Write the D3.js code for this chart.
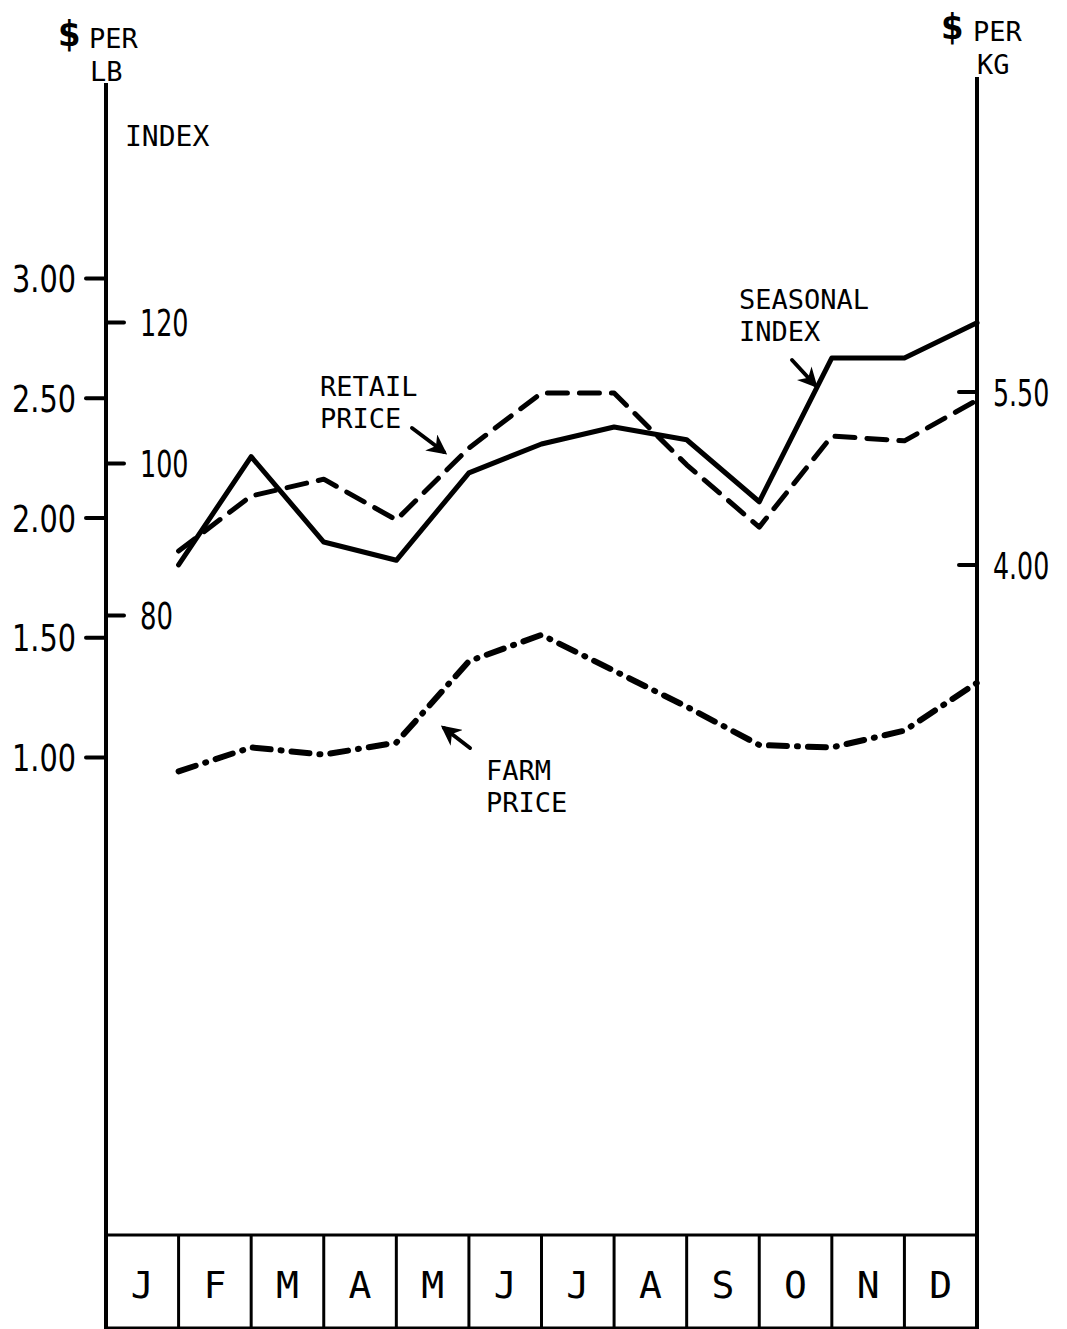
<!DOCTYPE html>
<html>
<head>
<meta charset="utf-8">
<script src="https://cdn.jsdelivr.net/npm/d3@7"></script>
<style>
  html, body { margin: 0; padding: 0; background: #fff; }
  svg { display: block; }
  .num { font-family: "DejaVu Sans Condensed", "DejaVu Sans", sans-serif; }
  .mono { font-family: "DejaVu Sans Mono", monospace; }
</style>
</head>
<body>
<svg id="chart" width="1067" height="1329"></svg>
<script>
// ---- data ----
const months = ["J","F","M","A","M","J","J","A","S","O","N","D"];
const seasonalIndex = [86.6, 100.9, 89.6, 87.2, 98.7, 102.7, 105.1, 103.3, 94.9, 114.9, 114.9, 119.9];
const retailPrice   = [1.86, 2.09, 2.16, 1.99, 2.29, 2.52, 2.52, 2.22, 1.96, 2.34, 2.32, 2.49];
const farmPrice     = [0.94, 1.04, 1.01, 1.06, 1.40, 1.51, 1.36, 1.21, 1.05, 1.04, 1.11, 1.31];
const lbTicks    = [1.00, 1.50, 2.00, 2.50, 3.00];
const indexTicks = [80, 100, 120];
const kgTicks    = [4.00, 5.50];

// ---- layout ----
const W = 1067, H = 1329;
const xLeft = 106, xRight = 977;
const boxTop = 1235;

const svg = d3.select("#chart");
svg.append("rect").attr("width", W).attr("height", H).attr("fill", "#fff");

const x = d3.scaleBand().domain(d3.range(12)).range([xLeft, xRight]).paddingInner(0).paddingOuter(0);
const xEnd = i => x(i) + x.bandwidth();

const yLb  = d3.scaleLinear().domain([1, 3]).range([757, 278]);
const yIdx = d3.scaleLinear().domain([80, 100, 120]).range([615, 463, 322]);
const yKg  = d3.scaleLinear().domain([4, 5.5]).range([565, 392]);

const ink = "#000";
const narrow = s => s.length * 15.5 + 2;   // width for condensed numerals

// ---- axes lines ----
svg.append("line").attr("x1", xLeft).attr("x2", xLeft).attr("y1", 83).attr("y2", H)
  .attr("stroke", ink).attr("stroke-width", 4);
svg.append("line").attr("x1", xRight).attr("x2", xRight).attr("y1", 77).attr("y2", H)
  .attr("stroke", ink).attr("stroke-width", 4);

// ---- left $ per lb axis ----
const gLb = svg.append("g").attr("transform", `translate(${xLeft},0)`)
  .call(d3.axisLeft(yLb).tickValues(lbTicks).tickSize(20).tickPadding(10).tickFormat(d3.format(".2f")));
gLb.select(".domain").remove();
gLb.selectAll(".tick line").attr("stroke", ink).attr("stroke-width", 4).attr("stroke-linecap", "round");
gLb.selectAll(".tick text").attr("class", "num").attr("font-size", 38).attr("fill", ink)
  .attr("dy", "0.36em")
  .attr("textLength", function () { return narrow(this.textContent); })
  .attr("lengthAdjust", "spacingAndGlyphs");

// ---- index axis ----
const gIdx = svg.append("g").attr("transform", `translate(${xLeft},0)`)
  .call(d3.axisRight(yIdx).tickValues(indexTicks).tickSize(18).tickPadding(16).tickFormat(d3.format("d")));
gIdx.select(".domain").remove();
gIdx.selectAll(".tick line").attr("stroke", ink).attr("stroke-width", 4).attr("stroke-linecap", "round");
gIdx.selectAll(".tick text").attr("class", "num").attr("font-size", 38).attr("fill", ink)
  .attr("dy", "0.36em")
  .attr("textLength", function () { return narrow(this.textContent); })
  .attr("lengthAdjust", "spacingAndGlyphs");

// ---- right $ per kg axis (ticks inside, labels outside) ----
const gKg = svg.append("g");
gKg.selectAll("line.kg").data(kgTicks).join("line").attr("class", "kg")
  .attr("x1", xRight - 18).attr("x2", xRight)
  .attr("y1", d => yKg(d)).attr("y2", d => yKg(d))
  .attr("stroke", ink).attr("stroke-width", 4).attr("stroke-linecap", "round");
gKg.selectAll("text.kg").data(kgTicks).join("text").attr("class", "kg num")
  .attr("transform", d => `translate(${xRight + 16},${yKg(d)}) scale(0.74,1)`)
  .attr("x", 0).attr("y", 0).attr("dy", "0.36em")
  .attr("font-size", 38).attr("fill", ink)
  .text(d3.format(".2f"));

// ---- axis titles ----
svg.append("text").attr("class", "num").attr("x", 58).attr("y", 46).attr("font-size", 36)
  .attr("font-weight", "bold").attr("fill", ink).text("$");
svg.append("text").attr("class", "mono").attr("x", 89).attr("y", 48).attr("font-size", 27).attr("fill", ink).text("PER");
svg.append("text").attr("class", "mono").attr("x", 90).attr("y", 81).attr("font-size", 27).attr("fill", ink).text("LB");
svg.append("text").attr("class", "mono").attr("x", 125).attr("y", 146).attr("font-size", 28).attr("fill", ink).text("INDEX");

svg.append("text").attr("class", "num").attr("x", 941).attr("y", 39).attr("font-size", 36)
  .attr("font-weight", "bold").attr("fill", ink).text("$");
svg.append("text").attr("class", "mono").attr("x", 973).attr("y", 41).attr("font-size", 27).attr("fill", ink).text("PER");
svg.append("text").attr("class", "mono").attr("x", 977).attr("y", 74).attr("font-size", 27).attr("fill", ink).text("KG");

// ---- month box ----
svg.append("line").attr("x1", xLeft).attr("x2", xRight).attr("y1", boxTop).attr("y2", boxTop)
  .attr("stroke", ink).attr("stroke-width", 3);
svg.append("line").attr("x1", xLeft).attr("x2", xRight).attr("y1", H - 1).attr("y2", H - 1)
  .attr("stroke", ink).attr("stroke-width", 3);
svg.selectAll("line.div").data(d3.range(1, 12)).join("line").attr("class", "div")
  .attr("x1", d => x(d)).attr("x2", d => x(d)).attr("y1", boxTop).attr("y2", H)
  .attr("stroke", ink).attr("stroke-width", 3);
svg.selectAll("text.month").data(months).join("text").attr("class", "month mono")
  .attr("x", (d, i) => x(i) + x.bandwidth() / 2).attr("y", 1298)
  .attr("text-anchor", "middle").attr("font-size", 38).attr("fill", ink)
  .text(d => d);

// ---- series ----
const lineIdx = d3.line().x((d, i) => xEnd(i)).y(d => yIdx(d));
const lineLb  = d3.line().x((d, i) => xEnd(i)).y(d => yLb(d));

svg.append("path").datum(retailPrice).attr("d", lineLb)
  .attr("fill", "none").attr("stroke", ink).attr("stroke-width", 5)
  .attr("stroke-dasharray", "20,12").attr("stroke-linecap", "round").attr("stroke-linejoin", "round");

svg.append("path").datum(farmPrice).attr("d", lineLb)
  .attr("fill", "none").attr("stroke", ink).attr("stroke-width", 6)
  .attr("stroke-dasharray", "18,10,1,10").attr("stroke-linecap", "round").attr("stroke-linejoin", "round");

svg.append("path").datum(seasonalIndex).attr("d", lineIdx)
  .attr("fill", "none").attr("stroke", ink).attr("stroke-width", 5)
  .attr("stroke-linejoin", "round").attr("stroke-linecap", "round");

// ---- annotations ----
const defs = svg.append("defs");
defs.append("marker").attr("id", "ah").attr("viewBox", "0 0 10 10").attr("refX", 8).attr("refY", 5)
  .attr("markerWidth", 5).attr("markerHeight", 5).attr("orient", "auto").attr("markerUnits", "strokeWidth")
  .append("path").attr("d", "M0,0 L10,5 L0,10 L3,5 Z").attr("fill", ink);

function note(lines, tx, ty, ax1, ay1, ax2, ay2) {
  lines.forEach((t, k) => {
    svg.append("text").attr("class", "mono").attr("x", tx).attr("y", ty + k * 32)
      .attr("font-size", 27).attr("fill", ink).text(t);
  });
  svg.append("line").attr("x1", ax1).attr("y1", ay1).attr("x2", ax2).attr("y2", ay2)
    .attr("stroke", ink).attr("stroke-width", 4).attr("stroke-linecap", "round")
    .attr("marker-end", "url(#ah)");
}
note(["RETAIL", "PRICE"], 320, 396, 412, 428, 444, 452);
note(["SEASONAL", "INDEX"], 739, 309, 792, 360, 815, 385);
note(["FARM", "PRICE"], 486, 780, 470, 748, 444, 728);
</script>
</body>
</html>
